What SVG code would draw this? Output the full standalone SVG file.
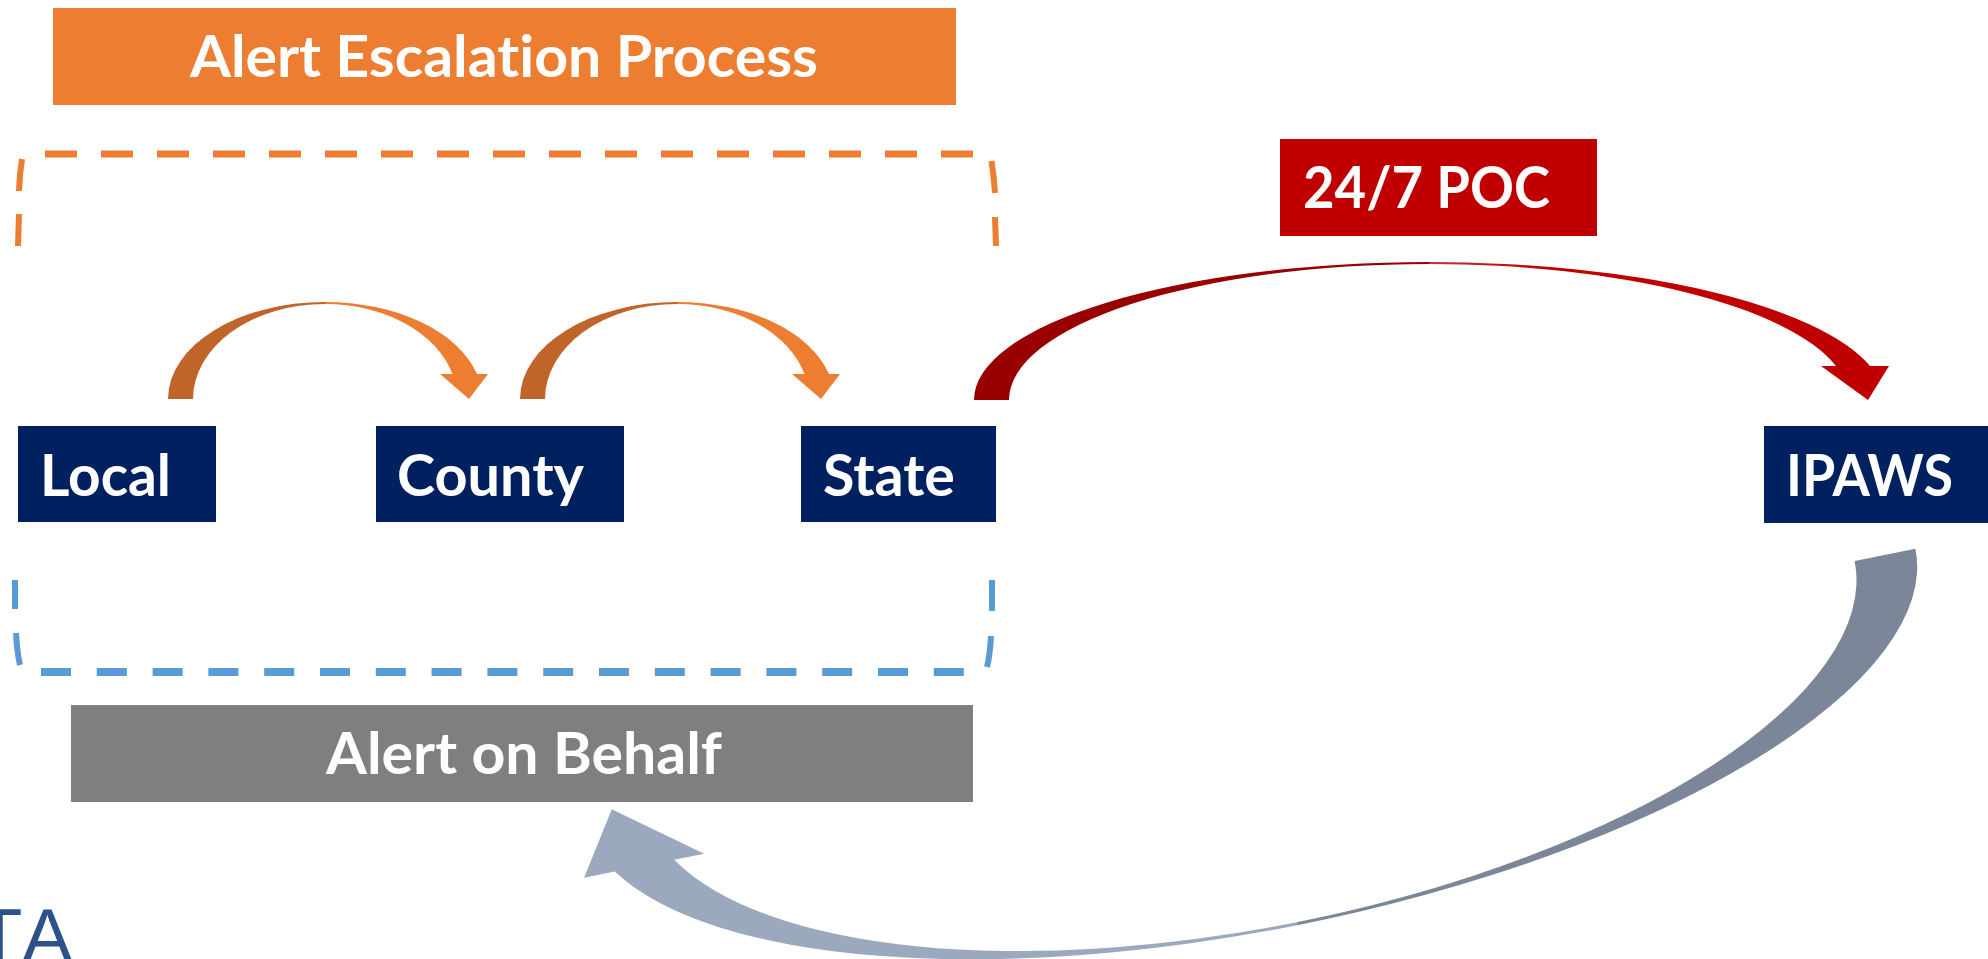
<svg xmlns="http://www.w3.org/2000/svg" width="1988" height="959" viewBox="0 0 1988 959">
  <defs>
    <style>
      .lbl { font-family: Lato, "Open Sans", "Liberation Sans", sans-serif; font-weight: 700; font-size: 57px; fill: #ffffff; font-variant-ligatures: none; }
      .navy { fill: #002060; }
      .dash-o { stroke: #ED7D31; fill: none; }
      .dash-b { stroke: #5B9BD5; fill: none; }
    </style>
    <linearGradient id="redRight" x1="0" y1="0" x2="1" y2="0">
      <stop offset="0" stop-color="#C83030"/>
      <stop offset="0.25" stop-color="#C00000"/>
      <stop offset="1" stop-color="#C00000"/>
    </linearGradient>
  </defs>
  <rect width="1988" height="959" fill="#ffffff"/>

  <!-- header bars -->
  <g id="title">
    <rect x="53" y="8" width="903" height="97" fill="#ED7D31"/>
    <text class="lbl" x="190" y="77" textLength="628" lengthAdjust="spacingAndGlyphs">Alert Escalation Process</text>
  </g>
  <g id="poc">
    <rect x="1280" y="139" width="317" height="97" fill="#C00000"/>
    <text class="lbl" x="1303" y="208" textLength="247" lengthAdjust="spacingAndGlyphs">24/7 POC</text>
  </g>
  <g id="behalf">
    <rect x="71" y="705" width="902" height="97" fill="#7F7F7F"/>
    <text class="lbl" x="326" y="774" textLength="396" lengthAdjust="spacingAndGlyphs">Alert on Behalf</text>
  </g>

  <!-- dashed brackets -->
  <g id="escalation-bracket" class="dash-o">
    <line x1="45" y1="154" x2="973" y2="154" stroke-width="7" stroke-dasharray="32 24"/>
    <path d="M22,159 Q19.5,175 19,191 M19,214 L18,246" stroke-width="6"/>
    <path d="M991.5,161 Q994,177 995,193 M995,217 L996,246" stroke-width="6"/>
  </g>
  <g id="behalf-bracket" class="dash-b">
    <line x1="41" y1="672" x2="964" y2="672" stroke-width="8" stroke-dasharray="30 25.8"/>
    <path d="M15,580 L15,609 M16,633 Q17,652 20,665" stroke-width="6"/>
    <path d="M992,580 L992,611 M991,636 Q990,655 987,667" stroke-width="6"/>
  </g>

  <!-- nodes -->
  <g id="local">
    <rect class="navy" x="18" y="426" width="198" height="96"/>
    <text class="lbl" x="40" y="496" textLength="131" lengthAdjust="spacingAndGlyphs">Local</text>
  </g>
  <g id="county">
    <rect class="navy" x="376" y="426" width="248" height="96"/>
    <text class="lbl" x="397" y="496" textLength="187" lengthAdjust="spacingAndGlyphs">County</text>
  </g>
  <g id="state">
    <rect class="navy" x="801" y="426" width="195" height="96"/>
    <text class="lbl" x="823" y="496" textLength="132" lengthAdjust="spacingAndGlyphs">State</text>
  </g>
  <g id="ipaws">
    <rect class="navy" x="1764" y="426" width="224" height="97"/>
    <text class="lbl" x="1786" y="496" textLength="167" lengthAdjust="spacingAndGlyphs">IPAWS</text>
  </g>

  <!-- connectors: curved block arrows -->
  <g id="connectors">
    <!-- Local to County -->
    <g id="arrow-local-county">
      <path d="M168,399 A157,97 0 0 1 325,302 L325,304 A132,95 0 0 0 193,399 Z" fill="#C0652A"/>
      <path d="M325,302 A157,97 0 0 1 477,374 L488,374 L469,399 L440,374 L452.5,374 A132,95 0 0 0 325,304 Z" fill="#ED7D31"/>
    </g>
    <!-- County to State -->
    <g id="arrow-county-state" transform="translate(352,0)">
      <path d="M168,399 A157,97 0 0 1 325,302 L325,304 A132,95 0 0 0 193,399 Z" fill="#C0652A"/>
      <path d="M325,302 A157,97 0 0 1 477,374 L488,374 L469,399 L440,374 L452.5,374 A132,95 0 0 0 325,304 Z" fill="#ED7D31"/>
    </g>
    <!-- State to IPAWS -->
    <g id="arrow-state-ipaws">
      <path d="M974,400 A455,138 0 0 1 1429,262 L1429,264 A420,136 0 0 0 1009,400 Z" fill="#990000"/>
      <path d="M1429,262 A455,138 0 0 1 1870,366 L1889,366 L1868,400 L1821,366 L1836,366 A420,136 0 0 0 1429,264 Z" fill="url(#redRight)"/>
    </g>
    <!-- IPAWS back to Alert on Behalf -->
    <g id="arrow-ipaws-behalf" transform="translate(1248.6,682) rotate(-11.3)">
      <path d="M680,0 A680,248 0 0 1 0,248 L0,245 A618,245 0 0 0 618,0 Z" fill="#7B8799"/>
      <path d="M0,248 A680,248 0 0 1 -658.6,61.7 L-690,61.7 L-649.4,0 L-567.6,61.7 L-598.1,61.7 A618,245 0 0 0 0,245 Z" fill="#9AA9BE"/>
    </g>
  </g>

  <!-- partial wordmark at the lower left -->
  <text x="-24 22" y="962" font-family="'Liberation Sans', Arial, sans-serif" font-size="76" fill="#2B5389">TA</text>
</svg>
